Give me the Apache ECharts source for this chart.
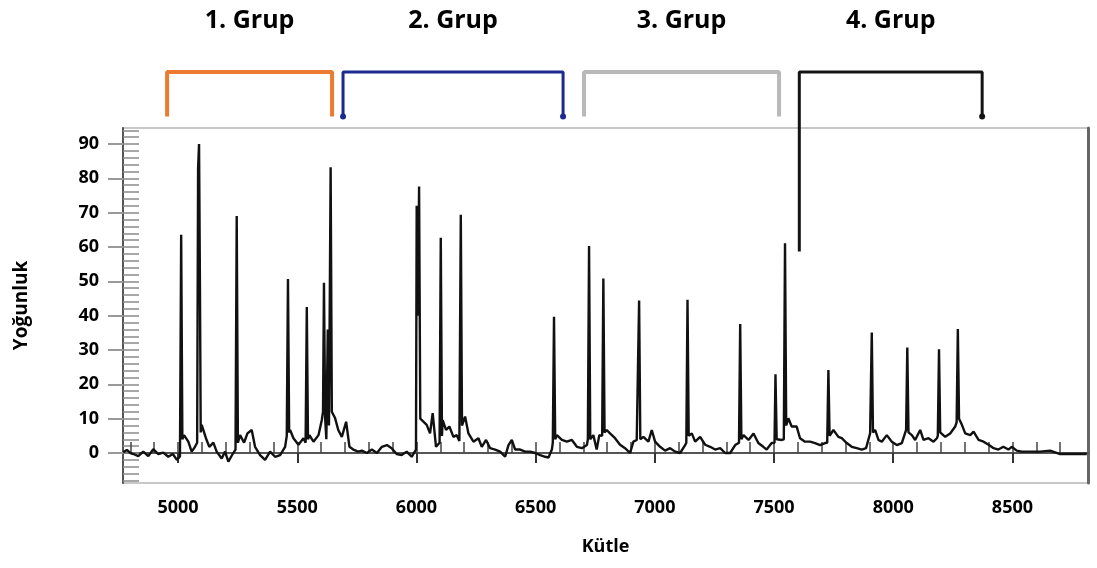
<!DOCTYPE html>
<html><head><meta charset="utf-8">
<script src="https://cdn.jsdelivr.net/npm/echarts@6/dist/echarts.min.js"></script>
<style>html,body{margin:0;padding:0;background:#fff}#c{width:1097px;height:568px}</style>
</head><body><div id="c"></div>
<script>
// ---- data ----
const masses = [
  4770,4785,4800,4813,4833,4854,4875,4896,4917,4938,4959,4978,4995,5008,
  5013,5018,5025,5043,5057,5071,5080,5084,5088,5092,5095,5099,5117,5131,5148,5162,5183,5197,5211,5229,5241,
  5246,5251,5260,5277,5291,5309,5323,5344,5365,5386,5407,5428,5449,5456,5461,5466,5470,5484,5505,5526,5535,5540,5545,
  5551,5568,5589,5603,5608,5612,5617,5622,5628,5633,5640,5645,5659,5672,5687,5705,5719,5735,5756,5771,5792,5813,5834,5855,5876,5896,5917,5938,5959,5980,
  5998,6001,6006,6011,6016,6022,6043,6057,6068,6082,6097,6102,6107,6110,6124,6138,6155,6169,6180,6186,6191,6204,6218,6239,6260,6274,6292,6309,6330,6351,6372,6386,6400,
  6414,6435,6456,6477,6498,6519,6540,6554,6568,6572,6577,6582,6589,6610,6631,6652,6673,6694,6715,6719,6724,6729,6742,6756,6767,6779,6784,6789,6798,
  6812,6833,6854,6875,6896,6910,6924,6929,6934,6939,6952,6973,6987,7001,7022,7043,7064,7085,7106,7127,7132,7137,7142,7155,7169,7190,7211,
  7232,7253,7274,7295,7316,7337,7353,7358,7363,7372,7393,7414,7434,7455,7469,7490,7502,7506,7511,7518,7532,7541,7546,7551,7560,7574,7595,7609,7630,
  7651,7672,7693,7714,7723,7728,7733,7749,7770,7784,7805,7826,7847,7868,7886,7903,7910,7915,7924,7938,7952,7973,7994,8015,8036,
  8054,8059,8064,8078,8092,8113,8127,8148,8169,8183,8187,8192,8197,8204,8218,8239,8260,8266,8271,8276,8288,8302,8323,8337,8358,8379,8400,
  8421,8441,8462,8483,8497,8518,8539,8574,8616,8658,8700,8756,8812
];
const intensities = [
  0.2,0.9,0.0,-0.3,-0.9,0.4,-0.9,1.1,-0.3,0.1,-1.1,-0.3,-2.0,-1.0,
  63.6,4.0,5.2,3.3,0.4,1.8,3.0,83.0,90.0,46.0,6.0,8.2,4.3,1.8,3.0,0.4,-1.6,0.4,-2.5,-0.3,1.0,
  69.0,3.0,5.2,3.0,5.7,6.7,1.8,-0.6,-2.0,0.4,-1.1,-0.6,1.8,5.0,50.7,6.0,6.7,4.3,2.4,4.3,3.0,42.5,4.0,
  5.2,3.3,5.2,9.6,12.0,49.6,10.0,4.0,36.0,8.0,83.2,12.0,10.1,6.7,4.7,9.1,1.8,1.0,0.4,0.7,0.0,1.0,0.0,1.8,2.3,1.4,-0.3,-0.6,0.4,-1.1,
  1.0,72.0,40.0,77.6,10.0,9.6,8.2,5.7,11.6,1.8,3.0,62.7,5.0,9.6,6.7,7.7,4.7,5.2,3.5,69.4,8.0,10.6,5.7,3.3,4.3,1.8,3.8,1.4,1.0,0.4,-1.1,2.3,3.8,
  1.0,1.0,0.4,0.4,0.0,-0.6,-1.1,-1.3,1.0,3.0,39.7,4.0,5.2,3.8,3.3,3.8,1.8,1.4,2.3,4.0,60.3,4.0,5.2,1.0,5.2,5.0,50.8,6.0,6.7,
  5.7,4.3,2.4,1.4,0.0,3.3,3.8,4.0,44.4,4.0,4.7,3.3,6.7,3.3,1.8,0.7,1.4,0.4,0.0,2.3,3.0,44.6,5.0,5.7,3.3,4.7,2.4,
  1.8,1.0,1.4,0.0,0.0,2.3,3.0,37.6,4.0,5.2,3.8,5.7,2.9,1.8,1.0,2.9,3.0,22.9,4.0,4.3,3.8,4.0,61.1,8.0,10.1,7.7,7.7,4.3,3.3,
  3.3,2.9,2.3,2.9,3.0,24.2,5.0,6.7,4.7,4.3,2.9,1.8,1.4,1.0,1.4,5.7,35.1,6.0,6.7,3.8,3.3,5.2,3.3,2.3,2.9,
  6.7,30.7,6.0,5.2,3.8,6.7,3.8,4.3,3.3,4.3,5.0,30.2,6.0,6.2,4.7,5.7,7.7,9.0,36.1,10.0,8.2,5.7,5.2,6.2,3.8,3.3,2.4,
  1.4,1.0,1.8,1.0,1.8,0.7,0.4,0.4,0.4,0.7,-0.3,-0.3,-0.3
];
const xTickLabels = [5000,5500,6000,6500,7000,7500,8000,8500];
const xMinorTicks = [4800,4900,5000,5100,5200,5300,5400,5500,5600,5700,5800,5900,6000,6100,6200,6300,6400,6500,6600,6700,
  6800,6900,7000,7100,7200,7300,7400,7500,7600,7700,7800,7900,8000,8100,8200,8300,8400,8500,8600,8700];
const yTickLabels = [0,10,20,30,40,50,60,70,80,90];
const yRulerTicks = [-8,-6,-4,-2,0,2,4,6,8,10,12,14,16,18,20,22,24,26,28,30,32,34,36,38,40,42,44,46,48,50,
  52,54,56,58,60,62,64,66,68,70,72,74,76,78,80,82,84,86,88,90,92,94];
const groupNames = ['1. Grup','2. Grup','3. Grup','4. Grup'];
const groupStart = [4954,5692,6703,7606];
const groupEnd = [5646,6615,7521,8373];
const groupTop = 111;
const groupLeftLegEnd = [98,98,98,58.7];
const groupRightLegEnd = [98,98,98,98];
const groupLabelLevel = 126;
const xTitle = 'Kütle';
const yTitle = 'Yoğunluk';

// ---- styling ----
const bracketColors = ['#ec7a30','#1b2a8f','#b9b9b9','#141414'];
const bracketWidths = [4,3,4,3];
const leftDot = [false,true,false,false];
const rightDot = [false,true,false,true];
const X_MIN = 4769, X_MAX = 8817, Y_MIN = -8.74, Y_MAX = 94.66;
const FONT = '"Open Sans", "DejaVu Sans", sans-serif';
const plain = v => String(v);

const spectrum = masses.map((m, k) => [m, intensities[k]]);

const bracketSeries = groupNames.map((n, k) => ({
  type: 'line', clip: false, silent: true, z: 5,
  symbol: 'none', symbolSize: 6,
  itemStyle: { color: bracketColors[k] },
  lineStyle: { color: bracketColors[k], width: bracketWidths[k] },
  data: [
    { value: [groupStart[k], groupLeftLegEnd[k]], symbol: leftDot[k] ? 'circle' : 'none' },
    [groupStart[k], groupTop],
    [groupEnd[k], groupTop],
    { value: [groupEnd[k], groupRightLegEnd[k]], symbol: rightDot[k] ? 'circle' : 'none' }
  ]
}));

const labelSeries = {
  type: 'scatter', clip: false, silent: true, z: 6,
  symbolSize: 0, itemStyle: { color: 'transparent' },
  label: { show: true, position: 'inside', formatter: '{b}', fontSize: 25, fontWeight: 'bold',
           color: '#000', opacity: 1, fontFamily: FONT, textBorderWidth: 0 },
  data: groupNames.map((n, k) => ({ name: n, value: [(groupStart[k] + groupEnd[k]) / 2, groupLabelLevel] }))
};

const chart = echarts.init(document.getElementById('c'), null, { renderer: 'canvas' });
chart.setOption({
  animation: false,
  backgroundColor: '#fff',
  textStyle: { fontFamily: FONT },
  grid: { left: 123, right: 9, top: 128, bottom: 85, show: true, borderColor: '#c8c8c8', borderWidth: 2 },
  xAxis: [
    {
      type: 'value', min: X_MIN, max: X_MAX, position: 'bottom',
      name: xTitle, nameLocation: 'middle', nameGap: 55,
      nameTextStyle: { fontSize: 18, fontWeight: 'bold', color: '#000', fontFamily: FONT },
      axisLine: { show: true, lineStyle: { color: '#555', width: 2 } },
      axisTick: { show: true, inside: false, length: 10, customValues: xTickLabels, lineStyle: { color: '#333', width: 2 } },
      axisLabel: { show: true, customValues: xTickLabels, formatter: plain, margin: 16, fontSize: 18, fontWeight: 'bold', color: '#000', fontFamily: FONT },
      splitLine: { show: false }
    },
    {
      type: 'value', min: X_MIN, max: X_MAX, position: 'bottom',
      axisLine: { show: false },
      axisTick: { show: true, inside: true, length: 11, customValues: xMinorTicks, lineStyle: { color: '#444', width: 1.5 } },
      axisLabel: { show: false },
      splitLine: { show: false }
    }
  ],
  yAxis: [
    {
      type: 'value', min: Y_MIN, max: Y_MAX, position: 'left',
      name: yTitle, nameLocation: 'middle', nameGap: 92, nameRotate: 90,
      nameTextStyle: { fontSize: 19, fontWeight: 'bold', color: '#000', fontFamily: FONT },
      axisLine: { show: true, lineStyle: { color: '#555', width: 2 } },
      axisTick: { show: true, inside: false, length: 15, customValues: yTickLabels, lineStyle: { color: '#999', width: 2 } },
      axisLabel: { show: true, customValues: yTickLabels, formatter: plain, margin: 24, fontSize: 18, fontWeight: 'bold', color: '#000', fontFamily: FONT },
      splitLine: { show: false }
    },
    {
      type: 'value', min: Y_MIN, max: Y_MAX, position: 'left',
      axisLine: { show: false },
      axisTick: { show: true, inside: true, length: 16, customValues: yRulerTicks, lineStyle: { color: '#8a8a8a', width: 1.5 } },
      axisLabel: { show: false },
      splitLine: { show: false }
    },
    {
      type: 'value', min: Y_MIN, max: Y_MAX, position: 'right',
      axisLine: { show: true, lineStyle: { color: '#666', width: 3 } },
      axisTick: { show: false }, axisLabel: { show: false }, splitLine: { show: false }
    }
  ],
  series: [
    {
      type: 'line', data: spectrum, showSymbol: false, symbol: 'none', silent: true, z: 3,
      lineStyle: { color: '#111', width: 2.4 }
    },
    ...bracketSeries,
    labelSeries
  ]
});
</script>
</body></html>
